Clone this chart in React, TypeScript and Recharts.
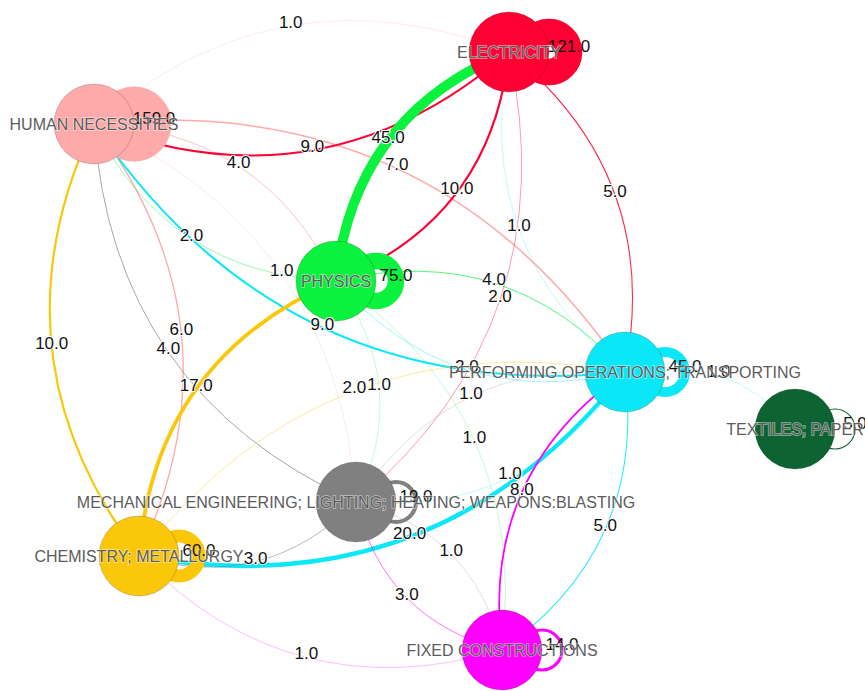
import React from 'react';
import { ComposedChart, Line, Scatter, XAxis, YAxis } from 'recharts';

// network of patent-section co-occurrences, layout units = 1px
const WIDTH = 865;
const HEIGHT = 691;

const nodeIds = ['hum', 'ele', 'phy', 'ops', 'tex', 'mec', 'che', 'fix'];
const nodeLabels = [
  'HUMAN NECESSITIES',
  'ELECTRICITY',
  'PHYSICS',
  'PERFORMING OPERATIONS; TRANSPORTING',
  'TEXTILES; PAPER',
  'MECHANICAL ENGINEERING; LIGHTING; HEATING; WEAPONS:BLASTING',
  'CHEMISTRY; METALLURGY',
  'FIXED CONSTRUCTIONS',
];
const nodeX = [94, 509, 336, 625, 795, 356, 139, 502];
const nodeY = [124, 52, 281, 372, 429, 502, 556, 650];
const nodeColors = ['#ffaaaa', '#ff0033', '#0af23d', '#0ae8f7', '#0d6332', '#808080', '#fbc70a', '#ff00ff'];
const selfLoopWeights = [159, 121, 75, 45, 5, 19, 60, 14];

const edgeFrom = [
  'hum', 'hum', 'hum', 'hum', 'hum',
  'ele', 'ele', 'ele', 'ele',
  'phy', 'phy', 'phy', 'phy', 'phy',
  'ops', 'ops', 'ops', 'ops', 'ops', 'ops', 'ops',
  'mec', 'mec', 'mec', 'mec',
  'che', 'che', 'che',
  'fix', 'fix', 'fix',
];
const edgeTo = [
  'ele', 'phy', 'ops', 'mec', 'che',
  'hum', 'phy', 'ops', 'mec',
  'ele', 'hum', 'ops', 'mec', 'fix',
  'hum', 'phy', 'che', 'mec', 'fix', 'ele', 'tex',
  'hum', 'che', 'ops', 'fix',
  'hum', 'phy', 'ops',
  'ops', 'mec', 'che',
];
const edgeWeights = [
  1, 4, 7, 1, 6,
  9, 10, 5, 2,
  45, 2, 4, 1, 1,
  9, 2, 20, 1, 5, 1, 1,
  4, 3, 1, 1,
  10, 17, 2,
  8, 3, 1,
];

const NODE_R = 40;
const LOOP_R = 20;
const BEND = 0.3;
const FONT = 'Arial, "Liberation Sans", sans-serif';

const nodes = nodeIds.map((id, i) => ({
  id,
  label: nodeLabels[i],
  x: nodeX[i],
  y: nodeY[i],
  color: nodeColors[i],
  loop: selfLoopWeights[i],
}));
const byId: Record<string, (typeof nodes)[number]> = Object.fromEntries(nodes.map((n) => [n.id, n]));

const edges = edgeFrom.map((f, i) => {
  const s = byId[f];
  const t = byId[edgeTo[i]];
  const dx = t.x - s.x;
  const dy = t.y - s.y;
  const cx = (s.x + t.x) / 2 + dy * BEND;
  const cy = (s.y + t.y) / 2 - dx * BEND;
  return {
    key: `${f}-${edgeTo[i]}`,
    color: s.color,
    weight: edgeWeights[i],
    points: [
      { x: s.x, y: s.y },
      { x: cx, y: cy },
      { x: t.x, y: t.y },
    ],
    label: { x: 0.25 * s.x + 0.5 * cx + 0.25 * t.x, y: 0.25 * s.y + 0.5 * cy + 0.25 * t.y, text: edgeWeights[i].toFixed(1) },
  };
});
const edgeLabels = edges.map((e) => e.label);

const edgeWidth = (w: number) => Math.max(1, w * 0.22);
const edgeOpacity = (w: number) => Math.min(1, 0.1 + w * 0.15);

// quadratic bezier through [start, control, end]
function quadBezier(context: any) {
  let pts: number[][] = [];
  return {
    areaStart() {},
    areaEnd() {},
    lineStart() {
      pts = [];
    },
    point(x: number, y: number) {
      pts.push([+x, +y]);
    },
    lineEnd() {
      if (pts.length < 2) return;
      context.moveTo(pts[0][0], pts[0][1]);
      if (pts.length === 3) context.quadraticCurveTo(pts[1][0], pts[1][1], pts[2][0], pts[2][1]);
      else pts.slice(1).forEach((p) => context.lineTo(p[0], p[1]));
    },
  };
}

const LoopShape = (props: any) => {
  const { cx, cy, payload } = props;
  return (
    <circle
      cx={cx + NODE_R}
      cy={cy}
      r={LOOP_R}
      fill="none"
      stroke={payload.color}
      strokeWidth={edgeWidth(payload.loop)}
    />
  );
};

const NodeShape = (props: any) => {
  const { cx, cy, payload } = props;
  return <circle cx={cx} cy={cy} r={NODE_R} fill={payload.color} stroke="rgba(0,0,0,0.18)" strokeWidth={1} />;
};

const EdgeLabel = (props: any) => {
  const { cx, cy, payload } = props;
  return (
    <text
      x={cx}
      y={cy - 4}
      dy="0.35em"
      textAnchor="middle"
      fontFamily={FONT}
      fontSize={17}
      fill="#111"
      stroke="#fff"
      strokeWidth={2}
      paintOrder="stroke"
    >
      {payload.text}
    </text>
  );
};

const LoopLabel = (props: any) => {
  const { cx, cy, payload } = props;
  return (
    <text
      x={cx + NODE_R + LOOP_R}
      y={cy - 6}
      dy="0.35em"
      textAnchor="middle"
      fontFamily={FONT}
      fontSize={17}
      fill="#111"
    >
      {payload.loop.toFixed(1)}
    </text>
  );
};

const NodeLabel = (props: any) => {
  const { cx, cy, payload } = props;
  return (
    <text
      x={cx}
      y={cy}
      dy="0.35em"
      textAnchor="middle"
      fontFamily={FONT}
      fontSize={16}
      fill="#5c5c5c"
      stroke="rgba(255,255,255,0.55)"
      strokeWidth={1.5}
      paintOrder="stroke"
    >
      {payload.label}
    </text>
  );
};

export default function App() {
  return (
    <div style={{ position: 'absolute', left: 0, top: 0, width: WIDTH, height: HEIGHT, background: '#fff', overflow: 'hidden' }}>
      <ComposedChart width={WIDTH} height={HEIGHT} margin={{ top: 0, right: 0, bottom: 0, left: 0 }}>
        <XAxis type="number" dataKey="x" domain={[0, WIDTH]} allowDataOverflow hide />
        <YAxis type="number" dataKey="y" domain={[0, HEIGHT]} allowDataOverflow reversed hide />
        {edges.map((e) => (
          <Line
            key={e.key}
            data={e.points}
            dataKey="y"
            type={quadBezier as any}
            stroke={e.color}
            strokeWidth={edgeWidth(e.weight)}
            strokeOpacity={edgeOpacity(e.weight)}
            dot={false}
            activeDot={false}
            legendType="none"
            isAnimationActive={false}
          />
        ))}
        <Scatter data={nodes} shape={LoopShape} isAnimationActive={false} />
        <Scatter data={nodes} shape={NodeShape} isAnimationActive={false} />
        <Scatter data={edgeLabels} shape={EdgeLabel} isAnimationActive={false} />
        <Scatter data={nodes} shape={LoopLabel} isAnimationActive={false} />
        <Scatter data={nodes} shape={NodeLabel} isAnimationActive={false} />
      </ComposedChart>
    </div>
  );
}
